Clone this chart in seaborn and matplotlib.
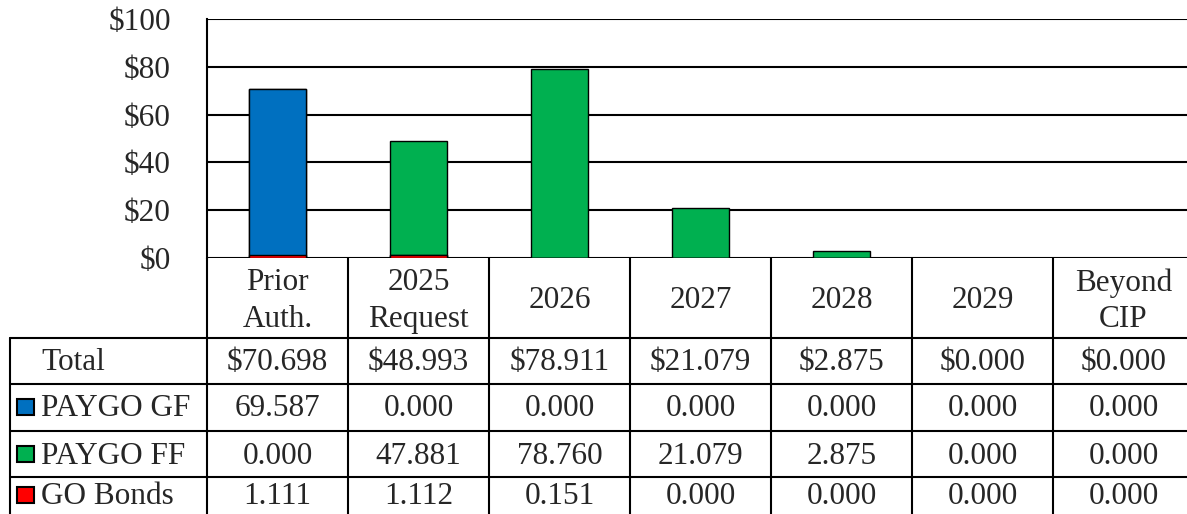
import matplotlib
matplotlib.use("Agg")
import matplotlib.pyplot as plt
import matplotlib.transforms as mtrans
from matplotlib.lines import Line2D
from matplotlib.patches import Rectangle
import seaborn as sns
import numpy as np
import pandas as pd

categories = ["Prior\nAuth.", "2025\nRequest", "2026", "2027", "2028", "2029", "Beyond\nCIP"]
series_names = ["PAYGO GF", "PAYGO FF", "GO Bonds"]
paygo_gf = [69.587, 0.000, 0.000, 0.000, 0.000, 0.000, 0.000]
paygo_ff = [0.000, 47.881, 78.760, 21.079, 2.875, 0.000, 0.000]
go_bonds = [1.111, 1.112, 0.151, 0.000, 0.000, 0.000, 0.000]
yticks = [0, 20, 40, 60, 80, 100]

colors = {"PAYGO GF": "#0070C0", "PAYGO FF": "#00B050", "GO Bonds": "#FF0000"}

sns.set_theme(style="white")
plt.rcParams["font.family"] = ["Liberation Serif", "DejaVu Serif"]
FS = 22.5

W, H = 1187, 514
fig = plt.figure(figsize=(W / 100, H / 100), dpi=100)
ax = fig.add_axes([207 / W, (H - 258) / H, 980 / W, 239 / H])

gf = np.array(paygo_gf)
ff = np.array(paygo_ff)
go = np.array(go_bonds)
df = pd.DataFrame({
    "cat": categories,
    "top": go + gf + ff,
    "mid": go + gf,
    "bot": go,
})

bw = 0.41
for col, name in [("top", "PAYGO FF"), ("mid", "PAYGO GF"), ("bot", "GO Bonds")]:
    sns.barplot(data=df, x="cat", y=col, color=colors[name], width=bw,
                edgecolor="black", linewidth=1.0, saturation=1, ax=ax, zorder=3)

ax.set_xlim(-0.5, -0.5 + 980 / 141)
ax.set_ylim(0, 100)
ax.set_yticks(yticks)
ax.set_yticklabels([f"${v}" for v in yticks], fontsize=FS)
ax.tick_params(axis="y", length=0, pad=26)
ax.set_xticks([])
ax.set_xlabel("")
ax.set_ylabel("")
for s in ["top", "right", "bottom"]:
    ax.spines[s].set_visible(False)
ax.spines["left"].set_color("black")
ax.spines["left"].set_linewidth(1.5)
ax.yaxis.grid(True, color="black", linewidth=1.5, zorder=0)
ax.set_axisbelow(True)

# Data table beneath the chart
bt = mtrans.blended_transform_factory(ax.transData, fig.transFigure)
def fy(py):
    return 1 - py / H

lw = 1.5
row_bounds = [258, 338, 384, 431, 477]
# horizontal lines
for py in row_bounds[1:]:
    fig.add_artist(Line2D([10 / W, 1], [fy(py), fy(py)], transform=fig.transFigure,
                          color="black", linewidth=lw))
# vertical lines between data columns
for k in range(len(categories)):
    xv = -0.5 + k
    fig.add_artist(Line2D([xv, xv], [fy(258), 0], transform=bt, color="black", linewidth=lw))
# left edge of the row label column
fig.add_artist(Line2D([10 / W, 10 / W], [fy(338), 0], transform=fig.transFigure,
                      color="black", linewidth=lw))

# header text
for i, c in enumerate(categories):
    fig.text(i, fy(301), c, transform=bt, ha="center", va="center",
             fontsize=FS, linespacing=1.32)

totals = df["top"].values
rows = [("Total", None, [f"${v:.3f}" for v in totals]),
        ("PAYGO GF", colors["PAYGO GF"], [f"{v:.3f}" for v in gf]),
        ("PAYGO FF", colors["PAYGO FF"], [f"{v:.3f}" for v in ff]),
        ("GO Bonds", colors["GO Bonds"], [f"{v:.3f}" for v in go])]
row_centers = [363, 409, 456, 497]
for (label, colr, vals), py in zip(rows, row_centers):
    fig.text(41 / W, fy(py), label, ha="left", va="center", fontsize=FS)
    if colr is not None:
        fig.add_artist(Rectangle((17 / W, fy(py + 6)), 17 / W, 16 / H,
                                 transform=fig.transFigure, facecolor=colr,
                                 edgecolor="black", linewidth=1.5))
    for i, v in enumerate(vals):
        fig.text(i, fy(py), v, transform=bt, ha="center", va="center", fontsize=FS)

fig.savefig("out.png", dpi=100)
